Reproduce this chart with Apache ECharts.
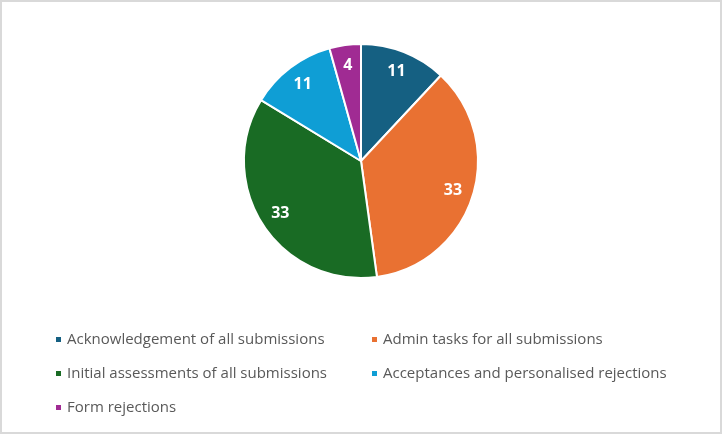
<!DOCTYPE html>
<html lang="en">
<head>
    <meta charset="UTF-8">
    <title>Submissions pie</title>
    <script src="https://cdn.jsdelivr.net/npm/echarts@6/dist/echarts.min.js"></script>
    <style>
        html, body { margin: 0; padding: 0; background: #fff; }
        #frame { width: 722px; height: 434px; box-sizing: border-box; border: 2px solid #d9d9d9; position: relative; }
        #main { position: absolute; left: -2px; top: -2px; width: 722px; height: 434px; }
    </style>
</head>
<body>
<div id="frame"><div id="main"></div></div>

<script type="text/javascript">
    // data
    var categories = [
        'Acknowledgement of all submissions',
        'Admin tasks for all submissions',
        'Initial assessments of all submissions',
        'Acceptances and personalised rejections',
        'Form rejections'
    ];
    var values = [11, 33, 33, 11, 4];
    var colors = ['#156082', '#E97132', '#196B24', '#0F9ED5', '#A02B93'];

    var pieData = categories.map(function (name, i) {
        return { name: name, value: values[i] };
    });

    var myChart = echarts.init(document.getElementById('main'));

    var option = {
        color: colors,
        animation: false,
        legend: {
            left: 54,
            top: 332,
            width: 640,
            padding: 0,
            icon: 'rect',
            itemWidth: 7,
            itemHeight: 7,
            itemGap: 19,
            data: categories,
            textStyle: {
                color: '#595959',
                fontSize: 15,
                lineHeight: 15,
                width: 284,
                fontFamily: 'Open Sans'
            }
        },
        series: [
            {
                // the pie itself
                name: 'slices',
                type: 'pie',
                center: [361, 161],
                radius: [0, 117],
                startAngle: 90,
                clockwise: true,
                itemStyle: { borderColor: '#fff', borderWidth: 2 },
                label: { show: false },
                labelLine: { show: false },
                emphasis: { disabled: true },
                data: pieData
            },
            {
                // transparent ring only to place the value labels further out
                name: 'labels',
                type: 'pie',
                center: [361, 161],
                radius: [70, 117],
                startAngle: 90,
                clockwise: true,
                silent: true,
                itemStyle: { color: 'transparent', borderWidth: 0 },
                label: {
                    show: true,
                    position: 'inside',
                    formatter: '{c}',
                    color: '#fff',
                    fontSize: 16,
                    fontWeight: 'bold',
                    fontFamily: 'Open Sans'
                },
                labelLine: { show: false },
                emphasis: { disabled: true },
                data: pieData
            }
        ]
    };

    myChart.setOption(option);
</script>
</body>
</html>
